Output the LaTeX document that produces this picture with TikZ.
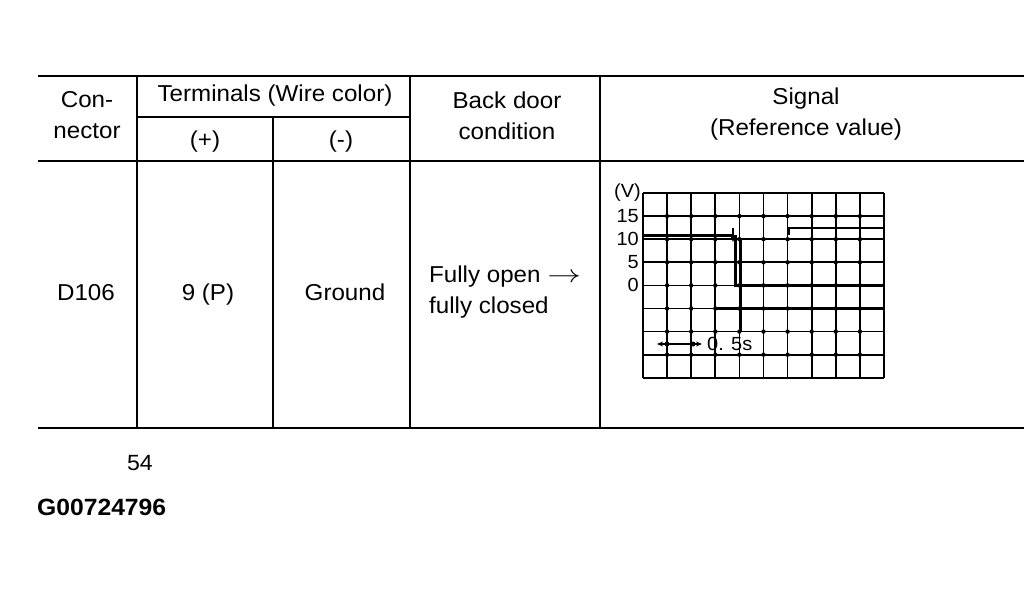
\documentclass[tikz,border=0pt]{standalone}
\usepackage{fontspec}
\usepackage{graphicx}
\setmainfont[FakeStretch=1.05]{Liberation Sans}
\usetikzlibrary{arrows.meta}
\begin{document}
\begin{tikzpicture}[x=1pt,y=-1pt,
  rule/.style={line width=1.2pt},
  gridline/.style={line width=1.7pt},
  sig/.style={line width=2.6pt},
  txt/.style={font=\fontsize{23}{31}\selectfont, align=center, inner sep=0pt},
  body/.style={font=\fontsize{23}{31}\selectfont, inner sep=0pt, anchor=base},
  small/.style={font=\fontsize{19}{19}\selectfont, inner sep=0pt},
]
\useasboundingbox (0,0) rectangle (1034,591);
% table rules
\draw[rule] (38,76) -- (1024,76);
\draw[rule] (38,161) -- (1024,161);
\draw[rule] (38,428) -- (1024,428);
\draw[rule] (137,117) -- (410,117);
\foreach \x in {137,410,600} \draw[rule] (\x,76) -- (\x,428);
\draw[rule] (273,117) -- (273,428);
% header
\node[txt] (con) at (87,115.5) {Con-\\nector};
\node[body] (term) at (275,102) {Terminals (Wire color)};
\node[body] (plus) at (205,148) {(+)};
\node[body] (minus) at (341,148) {(-)};
\node[txt] (back) at (507,115.5) {Back door\\condition};
\node[txt] (sigh) at (806,114) {Signal\\(Reference value)};
% body
\node[body] (d) at (86,300) {D106};
\node[body] (p) at (208,300) {9 (P)};
\node[body] (g) at (345,300) {Ground};
\node[txt, align=left, anchor=west] (bd) at (429,292) {Fully open \scalebox{1.35}[1]{$\rightarrow$}\\fully closed};
% graph grid
\foreach \i in {0,...,10} \draw[gridline] ({643+24.1*\i},193) -- ({643+24.1*\i},377.8);
\foreach \j in {0,...,8} \draw[gridline] (643,{193+23.1*\j}) -- (884,{193+23.1*\j});
\foreach \i in {1,...,9} \foreach \j in {1,...,7} \fill ({643+24.1*\i},{193+23.1*\j}) circle (2.2pt);
% axis labels
\node[small, anchor=east] (v) at (641,193) {(V)};
\node[small, anchor=east] (l15) at (639,216.1) {15};
\node[small, anchor=east] (l10) at (639,239.2) {10};
\node[small, anchor=east] (l5) at (639,262.3) {5};
\node[small, anchor=east] (l0) at (639,285.4) {0};
% signal
\draw[sig] (643,235.5) -- (733,235.5);
\draw[line width=1.2pt,-{Stealth[length=6pt,width=5pt]}] (733,228) -- (733,242);
\draw[sig] (735.5,235) -- (735.5,285.4) -- (884,285.4);
\draw[sig] (741,239.2) -- (741,331.6);
\draw[sig] (717,308.5) -- (884,308.5);
\draw[sig] (789,235) -- (789,228) -- (884,228);
% time marker
\coordinate (ta) at (657,344);
\coordinate (tb) at (702,344);
\draw[line width=1.3pt,{Stealth[length=6pt,width=5pt]}-{Stealth[length=6pt,width=5pt]}] (ta) -- (tb);
\fill (667,344) circle (2.5pt) (693,344) circle (2.5pt);
\node[small, anchor=west] (ts) at (707,344) {0. 5s};
% footer
\node[font=\fontsize{22}{22}\selectfont, inner sep=0pt] (pg) at (140,463) {54};
\node[font=\bfseries\fontsize{23.5}{23.5}\selectfont, anchor=west, inner sep=0pt] (id) at (37,507) {G00724796};
\end{tikzpicture}
\end{document}
